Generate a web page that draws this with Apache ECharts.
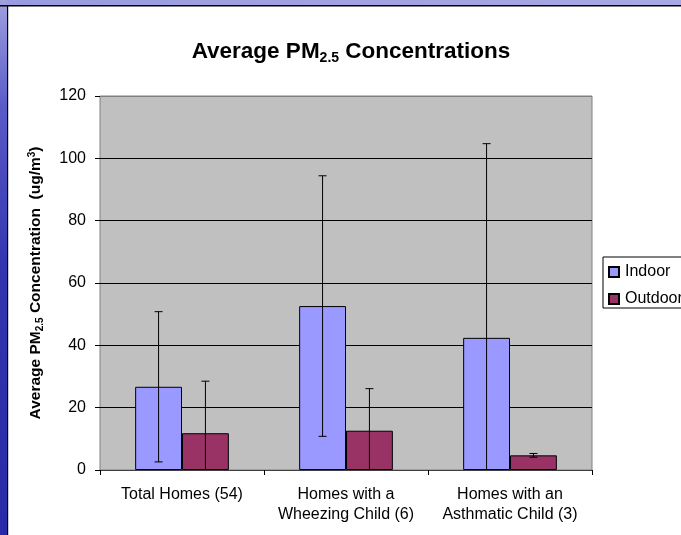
<!DOCTYPE html>
<html>
<head>
<meta charset="utf-8">
<style>
html,body{margin:0;padding:0;background:#ffffff;overflow:hidden;}
#chart{width:681px;height:535px;}
</style>
<script src="https://cdn.jsdelivr.net/npm/echarts@6/dist/echarts.min.js"></script>
</head>
<body>
<div id="chart"></div>
<script>
var categories = ['Total Homes (54)', 'Homes with a\nWheezing Child (6)', 'Homes with an\nAsthmatic Child (3)'];
var indoor = [26.7, 52.6, 42.4];
var outdoor = [11.8, 12.6, 4.7];
var indoorErr = [24.1, 41.8, 62.3];
var outdoorErr = [16.7, 13.5, 0.6];
var yTicks = [0, 20, 40, 60, 80, 100, 120];

var FONT = '"Liberation Sans", Arial, sans-serif';
var GAP = 0.4286;

var errData = [];
for (var i = 0; i < categories.length; i++) {
  errData.push([i, indoor[i], indoorErr[i], 0]);
  errData.push([i, outdoor[i], outdoorErr[i], 1]);
}

var chart = echarts.init(document.getElementById('chart'));
chart.setOption({
  backgroundColor: '#ffffff',
  animation: false,
  graphic: [
    {type: 'rect', shape: {x: 0, y: 0, width: 681, height: 5}, style: {fill: new echarts.graphic.LinearGradient(0, 0, 1, 0, [{offset: 0, color: '#9a9ae0'}, {offset: 1, color: '#a8a8e6'}])}, z: 100},
    {type: 'rect', shape: {x: 0, y: 0, width: 7, height: 535}, style: {fill: new echarts.graphic.LinearGradient(0, 0, 0, 1, [{offset: 0, color: '#a0a0e0'}, {offset: 0.2, color: '#5a5ac8'}, {offset: 0.5, color: '#3434b0'}, {offset: 1, color: '#2a2aa8'}])}, z: 100},
    {type: 'rect', shape: {x: 0, y: 5, width: 681, height: 1.5}, style: {fill: '#000000'}, z: 101},
    {type: 'rect', shape: {x: 7, y: 5, width: 1.2, height: 530}, style: {fill: '#000000'}, z: 101}
  ],
  title: {
    text: '{a|Average PM}{s|2.5}{a| Concentrations}',
    left: 346,
    textAlign: 'center',
    top: 34,
    textStyle: {
      rich: {
        a: {fontFamily: FONT, fontSize: 22.5, fontWeight: 'bold', color: '#000', lineHeight: 26, verticalAlign: 'middle'},
        s: {fontFamily: FONT, fontSize: 14, fontWeight: 'bold', color: '#000', lineHeight: 14, verticalAlign: 'bottom'}
      }
    }
  },
  legend: {
    data: ['Indoor', 'Outdoor'],
    orient: 'vertical',
    left: 603,
    top: 257,
    padding: [6, 40, 0, 5],
    itemGap: 9,
    itemWidth: 10,
    itemHeight: 10,
    icon: 'rect',
    backgroundColor: '#ffffff',
    borderColor: '#000000',
    borderWidth: 1,
    borderRadius: 0,
    textStyle: {fontFamily: FONT, fontSize: 16, color: '#000', lineHeight: 18, padding: [0, 0, 0, 1]}
  },
  grid: {
    left: 100, right: 89, top: 96, bottom: 65,
    show: true,
    backgroundColor: '#c0c0c0',
    borderColor: '#808080',
    borderWidth: 1
  },
  xAxis: {
    type: 'category',
    data: categories,
    axisLine: {lineStyle: {color: '#404040', width: 1}},
    axisTick: {show: true, length: 5, lineStyle: {color: '#000'}},
    axisLabel: {fontFamily: FONT, fontSize: 16, color: '#000', lineHeight: 20, margin: 15, interval: 0}
  },
  yAxis: {
    type: 'value',
    min: 0, max: 120, interval: 20,
    name: '{b|Average PM}{s|2.5}{b| Concentration  (ug/m}{p|3}{b|)}',
    nameLocation: 'middle',
    nameGap: 55,
    nameRotate: 90,
    nameTextStyle: {
      rich: {
        b: {fontFamily: FONT, fontSize: 15.5, fontWeight: 'bold', color: '#000', lineHeight: 18, verticalAlign: 'middle'},
        s: {fontFamily: FONT, fontSize: 10, fontWeight: 'bold', color: '#000', lineHeight: 10, verticalAlign: 'bottom'},
        p: {fontFamily: FONT, fontSize: 10, fontWeight: 'bold', color: '#000', lineHeight: 10, verticalAlign: 'top'}
      }
    },
    axisLine: {show: false},
    axisTick: {show: true, length: 5, lineStyle: {color: '#000'}},
    axisLabel: {fontFamily: FONT, fontSize: 16, color: '#000', margin: 14,
      formatter: function (v) { return yTicks.indexOf(v) >= 0 ? String(v) : ''; }},
    splitLine: {show: true, lineStyle: {color: ['#000', '#000', '#000', '#000', '#000', '#000', '#808080'], width: 1}}
  },
  series: [
    {
      name: 'Indoor', type: 'bar', data: indoor,
      barGap: '0%', barCategoryGap: (GAP * 100) + '%',
      itemStyle: {color: '#9999ff', borderColor: '#000', borderWidth: 1}
    },
    {
      name: 'Outdoor', type: 'bar', data: outdoor,
      barGap: '0%', barCategoryGap: (GAP * 100) + '%',
      itemStyle: {color: '#993366', borderColor: '#000', borderWidth: 1}
    },
    {
      name: 'err', type: 'custom', data: errData, z: 10,
      renderItem: function (params, api) {
        var idx = api.value(0), val = api.value(1), err = api.value(2), s = api.value(3);
        var band = api.size([1, 0])[0];
        var bw = band * (1 - GAP) / 2;
        var off = (s === 0 ? -bw / 2 : bw / 2);
        var lo = val - err, hi = val + err;
        var loClamped = lo < 0;
        if (loClamped) lo = 0;
        var pHi = api.coord([idx, hi]);
        var pLo = api.coord([idx, lo]);
        var x = pHi[0] + off;
        var cap = 4;
        var st = {stroke: '#000', lineWidth: 1, fill: null};
        var children = [
          {type: 'line', shape: {x1: x, y1: pHi[1], x2: x, y2: pLo[1]}, style: st},
          {type: 'line', shape: {x1: x - cap, y1: pHi[1], x2: x + cap, y2: pHi[1]}, style: st}
        ];
        if (!loClamped) {
          children.push({type: 'line', shape: {x1: x - cap, y1: pLo[1], x2: x + cap, y2: pLo[1]}, style: st});
        }
        return {type: 'group', children: children};
      }
    }
  ]
});
</script>
</body>
</html>
